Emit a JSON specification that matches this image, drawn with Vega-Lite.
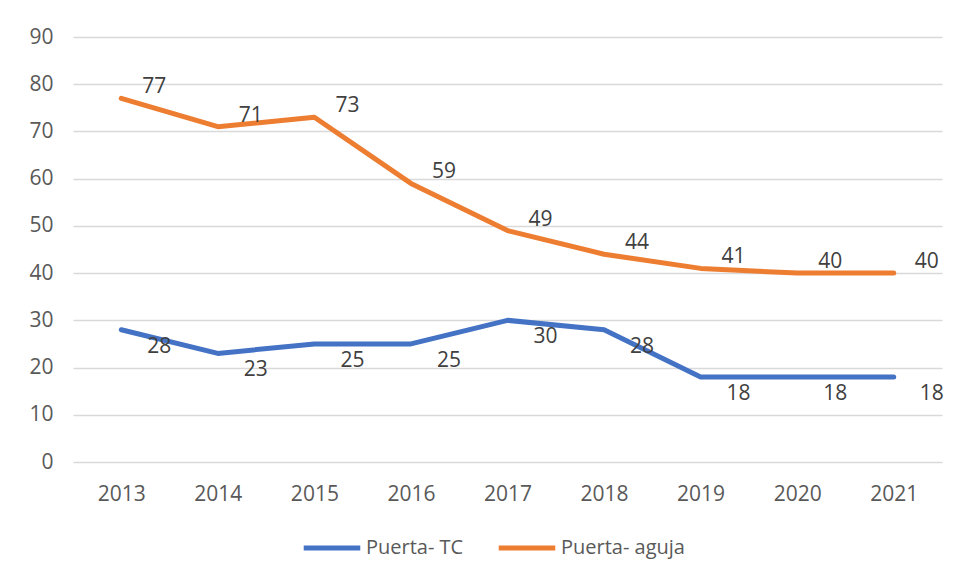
{
  "$schema": "https://vega.github.io/schema/vega-lite/v6.json",
  "width": 869,
  "height": 425,
  "autosize": {"type": "none"},
  "padding": {"left": 73, "top": 37, "right": 15, "bottom": 115},
  "background": "white",
  "config": {
    "view": {"stroke": null},
    "font": "Open Sans",
    "axis": {"labelFont": "Open Sans", "labelFontSize": 21, "labelColor": "#595959", "domain": false, "ticks": false, "title": null},
    "legend": {"labelFont": "Open Sans", "labelFontSize": 20, "labelColor": "#595959"}
  },
  "data": {
    "values": [
      {"year": "2013", "series": "Puerta- TC", "value": 28},
      {"year": "2014", "series": "Puerta- TC", "value": 23},
      {"year": "2015", "series": "Puerta- TC", "value": 25},
      {"year": "2016", "series": "Puerta- TC", "value": 25},
      {"year": "2017", "series": "Puerta- TC", "value": 30},
      {"year": "2018", "series": "Puerta- TC", "value": 28},
      {"year": "2019", "series": "Puerta- TC", "value": 18},
      {"year": "2020", "series": "Puerta- TC", "value": 18},
      {"year": "2021", "series": "Puerta- TC", "value": 18},
      {"year": "2013", "series": "Puerta- aguja", "value": 77},
      {"year": "2014", "series": "Puerta- aguja", "value": 71},
      {"year": "2015", "series": "Puerta- aguja", "value": 73},
      {"year": "2016", "series": "Puerta- aguja", "value": 59},
      {"year": "2017", "series": "Puerta- aguja", "value": 49},
      {"year": "2018", "series": "Puerta- aguja", "value": 44},
      {"year": "2019", "series": "Puerta- aguja", "value": 41},
      {"year": "2020", "series": "Puerta- aguja", "value": 40},
      {"year": "2021", "series": "Puerta- aguja", "value": 40}
    ]
  },
  "encoding": {
    "x": {
      "field": "year", "type": "ordinal",
      "scale": {"type": "point", "padding": 0.5},
      "axis": {"labelAngle": 0, "labelPadding": 21, "grid": false}
    },
    "y": {
      "field": "value", "type": "quantitative",
      "scale": {"domain": [0, 90], "nice": false},
      "axis": {"values": [0, 10, 20, 30, 40, 50, 60, 70, 80, 90], "grid": true, "gridColor": "#d9d9d9", "gridWidth": 1.5, "labelPadding": 20}
    }
  },
  "layer": [
    {
      "mark": {"type": "line", "strokeWidth": 5, "strokeCap": "round", "strokeJoin": "round"},
      "encoding": {
        "color": {
          "field": "series", "type": "nominal",
          "scale": {"domain": ["Puerta- TC", "Puerta- aguja"], "range": ["#4472C4", "#ED7D31"]},
          "legend": {
            "title": null, "orient": "none", "legendX": 228, "legendY": 480, "direction": "horizontal",
            "symbolType": "stroke", "symbolSize": 3200, "symbolStrokeWidth": 5,
            "labelOffset": 3, "columnPadding": 24
          }
        }
      }
    },
    {
      "transform": [{"filter": "datum.series === 'Puerta- TC'"}],
      "mark": {"type": "text", "dx": 38, "dy": 17, "fontSize": 21, "color": "#404040", "font": "Open Sans"},
      "encoding": {"text": {"field": "value", "type": "quantitative"}}
    },
    {
      "transform": [{"filter": "datum.series === 'Puerta- aguja'"}],
      "mark": {"type": "text", "dx": 33, "dy": -11, "fontSize": 21, "color": "#404040", "font": "Open Sans"},
      "encoding": {"text": {"field": "value", "type": "quantitative"}}
    }
  ]
}
